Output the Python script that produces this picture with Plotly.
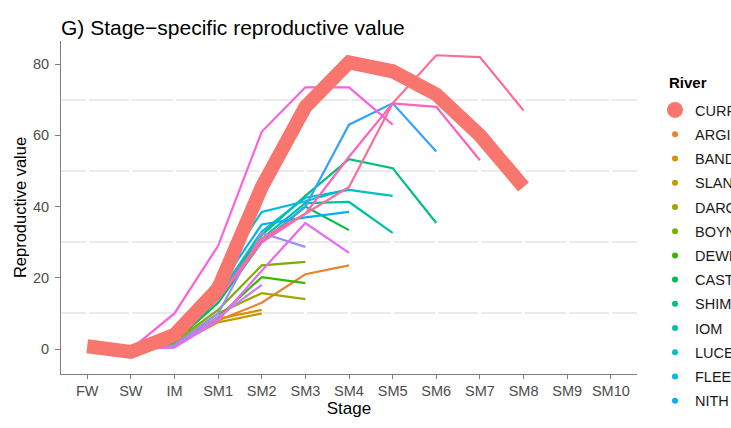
import plotly.graph_objects as go

# Life-history stages on the x axis (SM9 and SM10 carry no estimates)
stages = ["FW", "SW", "IM", "SM1", "SM2", "SM3", "SM4", "SM5",
          "SM6", "SM7", "SM8", "SM9", "SM10"]

# Reproductive value by stage for each river (values start at FW)
current = [0.8, -0.8, 4, 17, 45.5, 68, 80.5, 78, 71.5, 60, 45.5]
argideen = [0, 0, 1.5, 8, 13, 21, 23.5]
bandon = [0, 0, 1, 8.5, 11]
slaney = [0, 0, 1, 7.5, 10]
dargle = [0, 0, 1.5, 10, 15.7, 14]
boyne = [0, 0, 2, 11, 23.5, 24.5]
dewi = [0, 0, 1, 9, 20.2, 18.5]
castletown = [0, 0, 2, 13, 30, 40, 33.4]
shimna = [0, 0, 2.5, 15, 32, 43, 53.3, 50.8, 35.4]
iom = [0, 0, 2, 14, 31, 41, 41.3, 32.6]
luce = [0, 0, 2.5, 15, 33, 42.5, 44.7, 43]
fleet = [0, 0, 3, 20, 38.5, 41.5, 45]
nith = [0, 0, 2.5, 17, 35, 37, 38.5]
annan = [0, 0, 3, 16, 30, 40, 63, 69, 55.5]
ehen = [0, 0, 1, 10, 32.6, 28.7]
lune = [0, 0, 0.5, 9, 18]
ribble = [0, 0, 0.5, 8, 22, 35.4, 27]
conwy = [0, 0, 10, 29, 61, 73.5, 73.5, 63]
dyfi = [0, 0, 3, 14, 30, 38, 54, 69, 68, 53]
teifi = [0, 0, 3, 14, 31, 38, 45.5, 69, 82.5, 82, 67]

rivers = ["CURRENT", "ARGIDEEN", "BANDON", "SLANEY", "DARGLE", "BOYNE",
          "DEWI", "CASTLETOWN", "SHIMNA", "IOM", "LUCE", "FLEET", "NITH",
          "ANNAN", "EHEN", "LUNE", "RIBBLE", "CONWY", "DYFI", "TEIFI"]
series = [current, argideen, bandon, slaney, dargle, boyne, dewi,
          castletown, shimna, iom, luce, fleet, nith, annan, ehen, lune,
          ribble, conwy, dyfi, teifi]

# ggplot2 default hue palette for 20 levels
palette = ["#F8766D", "#EA8331", "#D89000", "#C09B00", "#A3A500", "#7CAE00",
           "#39B600", "#00BB4E", "#00BF7D", "#00C1A3", "#00BFC4", "#00BAE0",
           "#00B0F6", "#35A2FF", "#9590FF", "#C77CFF", "#E76BF3", "#FA62DB",
           "#FF62BC", "#FF6C91"]

FONT = "Liberation Sans, Arial, sans-serif"
W, H = 731, 428
L, R, T, B = 61, 94, 41, 54

fig = go.Figure()

# thin river lines first, the thick CURRENT line on top
for name, vals, col in list(zip(rivers, series, palette))[1:]:
    fig.add_trace(go.Scatter(
        x=stages[:len(vals)], y=vals, mode="lines", name=name,
        line=dict(color=col, width=2.2), showlegend=False, hoverinfo="skip"))
fig.add_trace(go.Scatter(
    x=stages[:len(current)], y=current, mode="lines", name=rivers[0],
    line=dict(color=palette[0], width=14), showlegend=False))

# legend keys drawn as points; the long list is split over stacked boxes
def legend_box(i):
    if i < 7:
        return "legend"
    if i < 13:
        return "legend2"
    return "legend3"

for i, (name, col) in enumerate(zip(rivers, palette)):
    fig.add_trace(go.Scatter(
        x=[None], y=[None], mode="markers", name=name,
        marker=dict(color=col, size=16 if i == 0 else 6),
        legendgroup=name, legend=legend_box(i)))

plot_w = W - L - R
plot_h = H - T - B
def py(px):
    return (H - B - px) / plot_h

def px_x(px):
    return (px - L) / plot_w

leg_font = dict(size=14.5, color="#1A1A1A", family=FONT)
gap = 2.4
leg_common = dict(x=px_x(655), xanchor="left", yanchor="top", font=leg_font,
                  tracegroupgap=gap, itemsizing="trace",
                  bgcolor="rgba(0,0,0,0)")
fig.update_layout(
    width=W, height=H,
    margin=dict(l=L, r=R, t=T, b=B, autoexpand=False),
    paper_bgcolor="white", plot_bgcolor="white",
    font=dict(family=FONT, color="#000000"),
    title=dict(text="G) Stage\u2212specific reproductive value",
               x=0, xref="paper", xanchor="left",
               y=1 - 28 / H, yref="container", yanchor="middle",
               font=dict(size=21, color="#000000", family=FONT)),
    xaxis=dict(type="category", categoryorder="array", categoryarray=stages,
               range=[-0.6, 12.6], showline=True, linecolor="#7F7F7F",
               linewidth=1, ticks="outside", ticklen=4, tickcolor="#7F7F7F",
               tickfont=dict(size=14.5, color="#4D4D4D"),
               showgrid=True, gridcolor="white", gridwidth=2.5,
               zeroline=False,
               title=dict(text="Stage", font=dict(size=17), standoff=2)),
    yaxis=dict(range=[-7.0, 86.5], tick0=0, dtick=20, showline=True,
               linecolor="#7F7F7F", linewidth=1, ticks="outside", ticklen=5,
               tickcolor="#7F7F7F", tickfont=dict(size=14.5, color="#4D4D4D"),
               ticklabelstandoff=3,
               showgrid=False, zeroline=False,
               minor=dict(tick0=10, dtick=20, showgrid=True,
                          gridcolor="#EBEBEB", gridwidth=1.5, ticklen=0),
               title=dict(text="Reproductive value", font=dict(size=16.5),
                          standoff=2)),
    legend=dict(y=py(94), **leg_common),
    legend2=dict(y=py(263.5), **leg_common),
    legend3=dict(y=py(436), **leg_common),
    annotations=[dict(text="<b>River</b>", xref="paper", yref="paper",
                      x=px_x(667), y=py(82), xanchor="left", yanchor="middle",
                      showarrow=False, font=dict(size=15, color="#000000"))],
)

fig.write_html("out.html")
